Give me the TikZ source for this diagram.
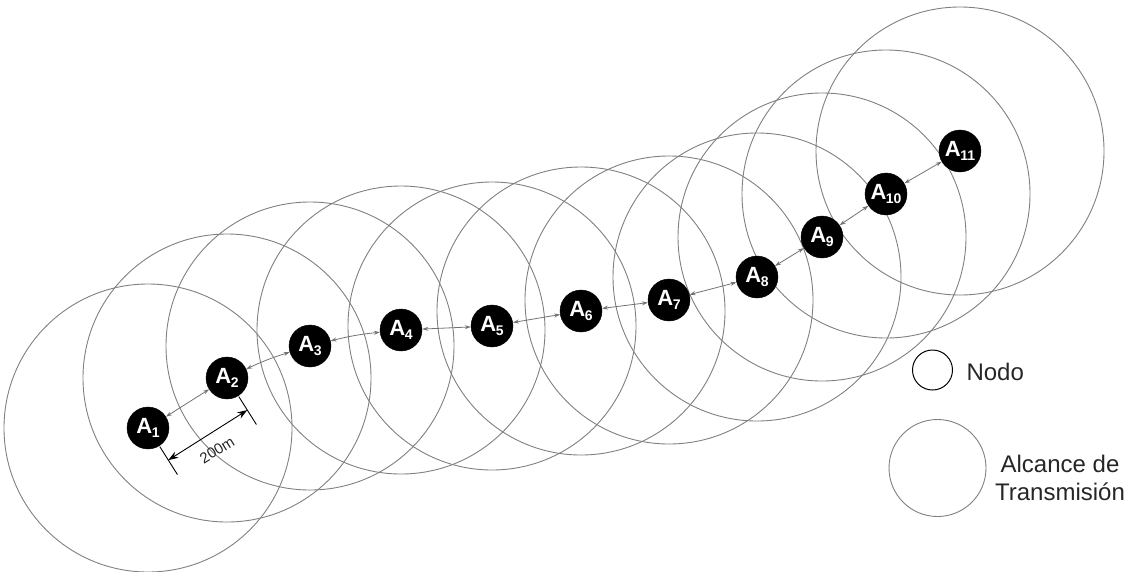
\documentclass[tikz,border=0pt]{standalone}
\usepackage{fontspec}
\setmainfont{Liberation Sans}
\usetikzlibrary{arrows.meta,calc}
\tikzset{
  nodo/.style={circle,fill=black,draw=black,minimum size=42pt,inner sep=0pt,text=white,
    font=\fontsize{22}{22}\selectfont\bfseries},
  rango/.style={draw=black!50,line width=0.9pt},
  conn/.style={draw=black!55,line width=0.8pt,{Stealth[length=6pt,width=4pt]}-{Stealth[length=6pt,width=4pt]}},
  tick/.style={draw=black,line width=0.9pt},
  lbl/.style={font=\fontsize{24}{24}\selectfont,text=black!85}
}
\newcommand{\Asub}[1]{A\kern-0.5pt\raisebox{-0.3ex}{\fontsize{14}{14}\selectfont #1}}
\begin{document}
\begin{tikzpicture}[x=1pt,y=-1pt]
\useasboundingbox (0,0) rectangle (1134,571);
% node positions
\foreach \n/\x/\y in {1/148/428,2/227/378,3/310/346,4/401/330,5/492/326,6/581/311,7/669/300,8/757/277,9/822/237,10/886/194,11/960/151}{
  \draw[rango] (\x,\y) circle[radius=144];
}
\foreach \n/\x/\y in {1/148/428,2/227/378,3/310/346,4/401/330,5/492/326,6/581/311,7/669/300,8/757/277,9/822/237,10/886/194,11/960/151}{
  \node[nodo] (A\n) at (\x,\y) {\Asub{\n}};
}
\draw[conn] (A1) -- (A2);
\draw[conn] (A2) to[bend left=4] (A3);
\draw[conn] (A3) to[bend left=4] (A4);
\draw[conn] (A4) -- (A5);
\draw[conn] (A5) -- (A6);
\draw[conn] (A6) -- (A7);
\draw[conn] (A7) -- (A8);
\draw[conn] (A8) -- (A9);
\draw[conn] (A9) -- (A10);
\draw[conn] (A10) -- (A11);
% dimension 200m
\coordinate (t1a) at (159.8,446.6);
\coordinate (t1b) at (177.4,474.5);
\coordinate (t2a) at (238.8,396.6);
\coordinate (t2b) at (256.4,424.5);
\coordinate (d1) at (168.3,460.1);
\coordinate (d2) at (247.3,410.1);
\draw[tick] (t1a) -- (t1b);
\draw[tick] (t2a) -- (t2b);
\draw[tick,{Stealth[length=10pt,width=7pt]}-{Stealth[length=10pt,width=7pt]}] (d1) -- (d2);
\node[font=\fontsize{15}{15}\selectfont,text=black!85,rotate=32,inner sep=1pt] (dim) at (217,450) {200m};
% legend
\draw[draw=black,line width=1pt] (932.5,370) circle[radius=20];
\node[lbl,anchor=west] (ln) at (963,372) {Nodo};
\draw[rango] (937.5,468) circle[radius=48.5];
\node[lbl,align=center] (la) at (1060,478) {Alcance de\\[4pt]Transmisión};
\end{tikzpicture}
\end{document}
